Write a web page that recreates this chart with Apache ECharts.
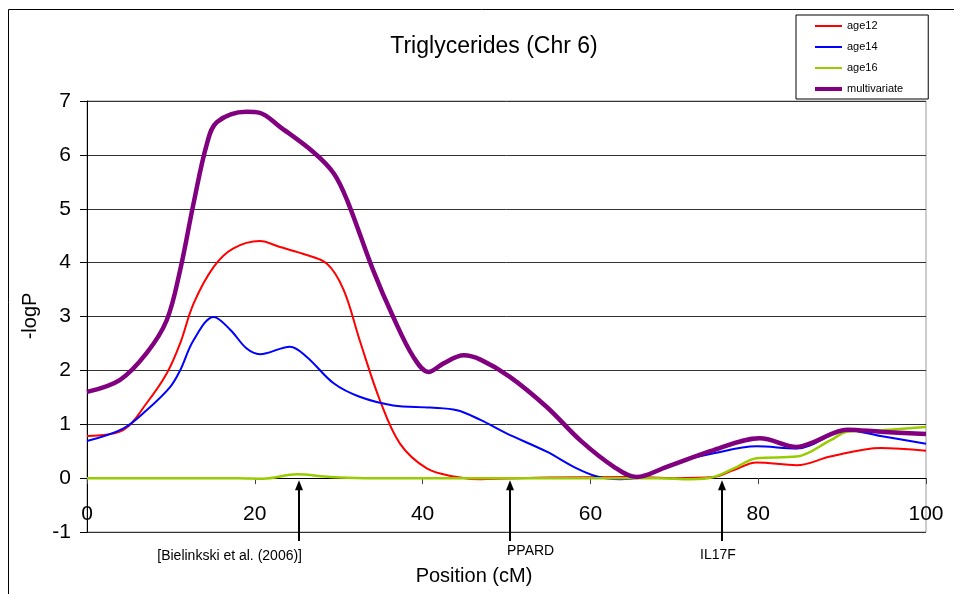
<!DOCTYPE html>
<html>
<head>
<meta charset="utf-8">
<script src="https://cdn.jsdelivr.net/npm/echarts@6/dist/echarts.min.js"></script>
<style>html,body{margin:0;padding:0;background:#fff}#c{width:954px;height:594px}</style>
</head>
<body>
<div id="c"></div>
<script>
// ---- Data ----
const age12Pos = [0, 4.3, 7.1, 9.5, 11.1, 12.7, 15.1, 17.4, 20.6, 23, 25.4, 28.6, 30.6, 32.5, 34.9, 37.3, 40.5, 43.7, 46.9, 55, 65, 70, 74.7, 77.1, 79.8, 84.6, 88.6, 94.6, 100];
const age12Val = [0.78, 0.89, 1.39, 1.94, 2.50, 3.24, 3.92, 4.26, 4.40, 4.29, 4.18, 3.98, 3.49, 2.56, 1.45, 0.64, 0.18, 0.03, -0.02, 0.01, 0.02, 0.0, 0.02, 0.15, 0.29, 0.24, 0.40, 0.56, 0.51];

const age14Pos = [0, 4.3, 7.1, 9.9, 11.1, 12.7, 15.1, 17.1, 19.0, 20.6, 24.2, 26.2, 29.4, 32.5, 36.5, 40.9, 44.1, 46.9, 50.0, 54.8, 58.0, 60.8, 63.5, 65.9, 69.9, 74.7, 79.8, 84.6, 90.6, 94.6, 100];
const age14Val = [0.69, 0.92, 1.26, 1.69, 2.0, 2.56, 2.99, 2.75, 2.41, 2.30, 2.44, 2.25, 1.76, 1.51, 1.35, 1.31, 1.26, 1.08, 0.83, 0.49, 0.21, 0.03, -0.02, 0.02, 0.27, 0.46, 0.59, 0.55, 0.89, 0.78, 0.64];

const age16Pos = [0, 10, 18, 21, 25, 29, 33, 40, 50, 60, 68, 72, 74.7, 77.1, 79.8, 84.6, 88.6, 90.6, 94.6, 100];
const age16Val = [0, 0, 0, -0.01, 0.07, 0.02, 0, 0, 0, 0, 0, -0.02, 0.02, 0.18, 0.37, 0.40, 0.70, 0.86, 0.89, 0.95];

const multiPos = [0, 3.9, 7.1, 9.5, 11.1, 12.7, 14.3, 15.5, 19.0, 20.6, 23.0, 27.0, 29.4, 31.0, 34.1, 36.5, 38.9, 40.7, 42.5, 44.9, 46.9, 50.4, 54.8, 58.8, 62.8, 65.5, 69.1, 74.7, 80.2, 84.6, 86.6, 90.6, 94.6, 100];
const multiVal = [1.60, 1.82, 2.32, 2.93, 3.86, 5.10, 6.21, 6.61, 6.80, 6.78, 6.52, 6.05, 5.66, 5.16, 3.86, 2.99, 2.25, 1.97, 2.13, 2.28, 2.20, 1.88, 1.32, 0.70, 0.21, 0.02, 0.21, 0.52, 0.74, 0.58, 0.67, 0.90, 0.86, 0.82];

const seriesNames = ['age12', 'age14', 'age16', 'multivariate'];
const annotationPos = [25.3, 50.4, 75.7];
const annotationLabels = ['[Bielinkski et al. (2006)]', 'PPARD', 'IL17F'];
const xTicks = { min: 0, max: 100, interval: 20 };
const yTicks = { min: -1, max: 7, interval: 1 };

const FONT = "'Liberation Sans', Arial, sans-serif";
const zip = (xs, ys) => xs.map((x, i) => [x, ys[i]]);

const chart = echarts.init(document.getElementById('c'), null, { renderer: 'canvas' });

function lineSeries(name, data, color, width) {
  return {
    name, type: 'line', data, smooth: 0.35, symbol: 'none', showSymbol: false,
    lineStyle: { color, width }, itemStyle: { color },
    z: 3, animation: false
  };
}

const thinIcon = 'path://M0,0M0,14M0,6H27V8H0Z';
const thickIcon = 'path://M0,0M0,14M0,5H27V9H0Z';

chart.setOption({
  animation: false,
  backgroundColor: '#fff',
  title: {
    text: 'Triglycerides (Chr 6)', left: 489, top: 30, textAlign: 'center',
    textStyle: { fontFamily: FONT, fontSize: 23, fontWeight: 'normal', color: '#000' }
  },
  legend: {
    orient: 'vertical', left: 796, top: 15,
    padding: [4, 25, 3, 19], itemGap: 7, itemWidth: 27, itemHeight: 14,
    borderColor: '#000', borderWidth: 1, backgroundColor: '#fff',
    textStyle: { fontFamily: FONT, fontSize: 11, color: '#000' },
    data: seriesNames.map((n, i) => ({ name: n, icon: i === 3 ? thickIcon : thinIcon }))
  },
  grid: {
    left: 87, top: 101, right: 28, bottom: 62,
    show: true, borderColor: '#999', borderWidth: 1
  },
  xAxis: {
    type: 'value', min: xTicks.min, max: xTicks.max, interval: xTicks.interval,
    axisLine: { onZero: true, lineStyle: { color: '#000', width: 1 } },
    axisTick: { show: true, length: 6, lineStyle: { color: '#444' } },
    axisLabel: { margin: -28, fontFamily: FONT, fontSize: 21, color: '#000' },
    splitLine: { show: false }
  },
  yAxis: {
    type: 'value', min: yTicks.min, max: yTicks.max, interval: yTicks.interval,
    axisLine: { show: true, onZero: false, lineStyle: { color: '#000', width: 1 } },
    axisTick: { show: true, length: 7, lineStyle: { color: '#000' } },
    axisLabel: { margin: 16, fontFamily: FONT, fontSize: 21, color: '#000' },
    splitLine: { show: true, lineStyle: { color: '#333', width: 1 } }
  },
  series: [
    lineSeries(seriesNames[0], zip(age12Pos, age12Val), '#ff0000', 2),
    lineSeries(seriesNames[1], zip(age14Pos, age14Val), '#0000ff', 2),
    lineSeries(seriesNames[2], zip(age16Pos, age16Val), '#99cc00', 2.5),
    lineSeries(seriesNames[3], zip(multiPos, multiVal), '#800080', 4.5)
  ]
});

// annotations placed through the axis scales
const zeroY = chart.convertToPixel({ gridIndex: 0 }, [0, 0])[1];
const graphics = [
  { type: 'rect', shape: { x: 8.5, y: 9.5, width: 2000, height: 2000 }, style: { fill: 'none', stroke: '#000', lineWidth: 1 }, z: -10, silent: true },
  { type: 'text', x: 474, y: 576, style: { text: 'Position (cM)', font: '20px ' + FONT, fill: '#000', align: 'center', verticalAlign: 'middle' } },
  { type: 'text', x: 30, y: 316, rotation: Math.PI / 2, style: { text: '-logP', font: '20px ' + FONT, fill: '#000', align: 'center', verticalAlign: 'middle' } }
];
const labelLayout = [
  { align: 'right', dx: 3, dy: 556 },
  { align: 'left', dx: -3, dy: 551 },
  { align: 'center', dx: -4, dy: 555 }
];
annotationPos.forEach((p, i) => {
  const px = Math.round(chart.convertToPixel({ gridIndex: 0 }, [p, 0])[0]);
  const top = zeroY + 2;
  graphics.push({ type: 'line', shape: { x1: px, y1: top + 8, x2: px, y2: 541 }, style: { stroke: '#000', lineWidth: 2 }, z: 10 });
  graphics.push({ type: 'polygon', shape: { points: [[px, top], [px - 4, top + 10], [px + 4, top + 10]] }, style: { fill: '#000' }, z: 10 });
  const L = labelLayout[i];
  graphics.push({ type: 'text', x: px + L.dx, y: L.dy, style: { text: annotationLabels[i], font: '14px ' + FONT, fill: '#000', align: L.align, verticalAlign: 'middle' }, z: 10 });
});
chart.setOption({ graphic: graphics });
</script>
</body>
</html>
